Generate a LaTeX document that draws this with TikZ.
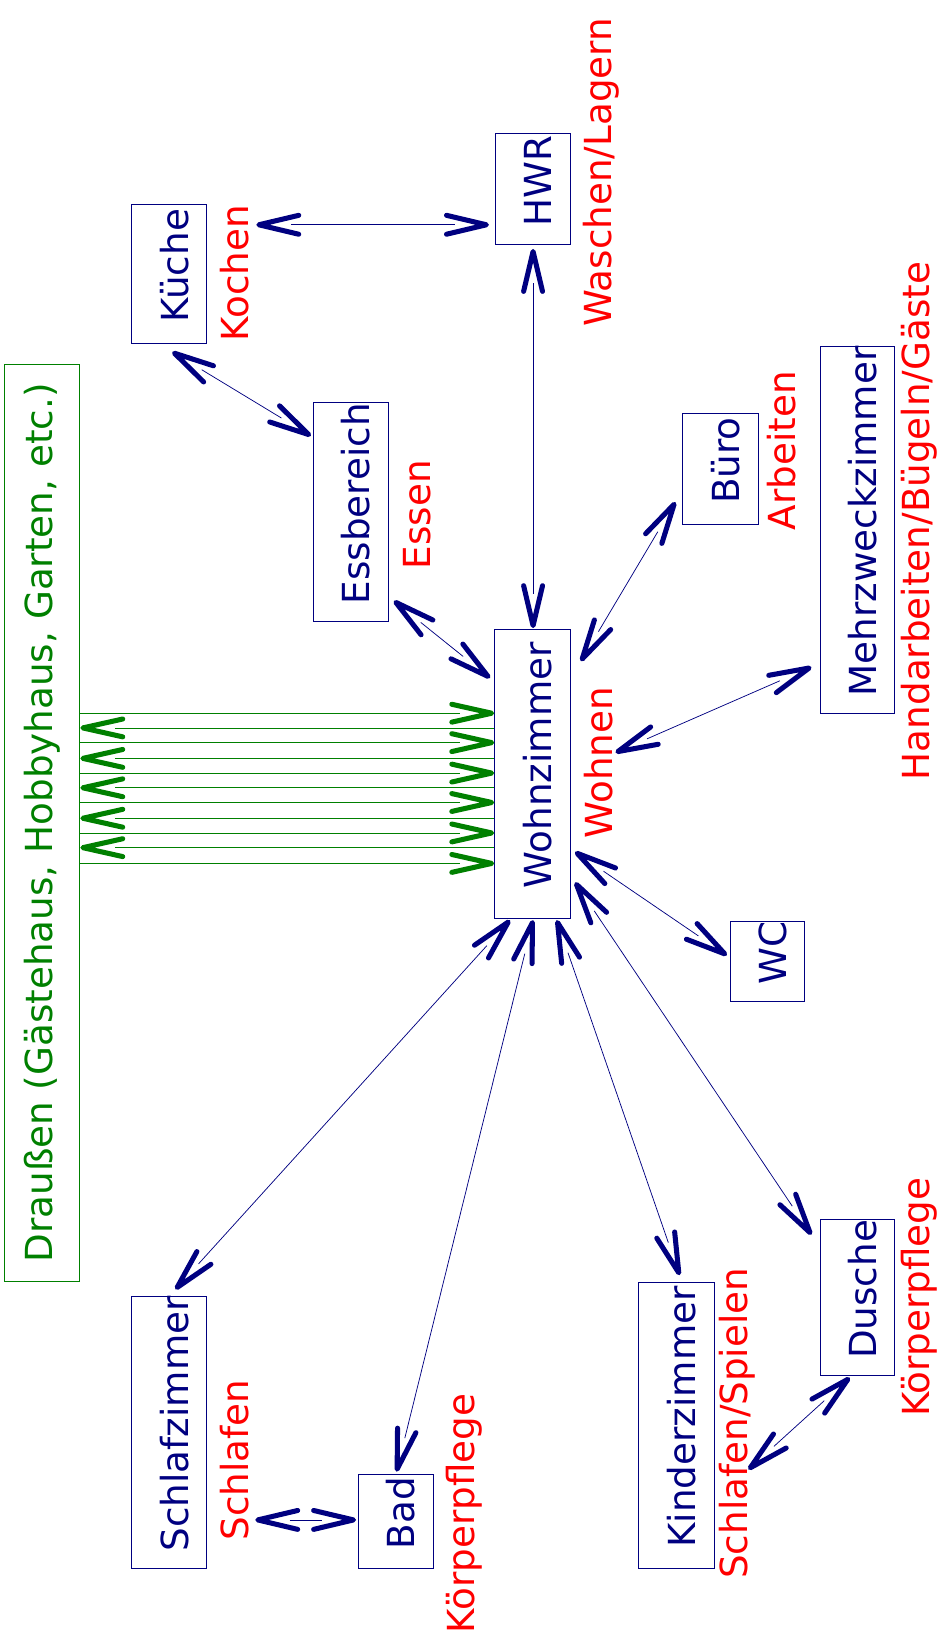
\documentclass[tikz,border=0pt]{standalone}
\usepackage{fontspec}
\setmainfont{DejaVu Sans}
\usetikzlibrary{arrows.meta,calc}

\definecolor{roomblue}{RGB}{0,0,128}
\definecolor{actred}{RGB}{255,0,0}
\definecolor{outgreen}{RGB}{0,128,0}

% open, bold V-shaped tip; the thin shaft stops inside the V
\pgfdeclarearrow{
  name = Vee,
  parameters = {\the\pgfarrowlength,\the\pgfarrowwidth,\the\pgfarrowlinewidth},
  setup code = {
    \pgfarrowssettipend{.5\pgfarrowlinewidth}
    \pgfarrowssetbackend{-\pgfarrowlength}
    \pgfarrowssetlineend{-.8\pgfarrowlength}
    \pgfarrowssavethe\pgfarrowlength
    \pgfarrowssavethe\pgfarrowwidth
    \pgfarrowssavethe\pgfarrowlinewidth
  },
  drawing code = {
    \pgfsetdash{}{0pt}
    \pgfsetroundcap
    \pgfsetroundjoin
    \pgfsetlinewidth{\pgfarrowlinewidth}
    \pgfpathmoveto{\pgfpoint{-\pgfarrowlength}{.5\pgfarrowwidth}}
    \pgfpathlineto{\pgfpointorigin}
    \pgfpathlineto{\pgfpoint{-\pgfarrowlength}{-.5\pgfarrowwidth}}
    \pgfusepathqstroke
  },
  defaults = {length=38pt, width=18pt, line width=4.8pt}
}

\tikzset{
  room/.style={draw=roomblue, line width=0.9pt, rectangle, inner sep=0pt,
    rotate=90, text=roomblue, text height=36pt, text depth=0pt,
    execute at begin node={\hspace*{16pt}}},
  activity/.style={rotate=90, anchor=base, text=actred, inner sep=0pt},
  link/.style={draw=roomblue, line width=0.7pt, arrows={Vee-Vee}},
  outlink/.style={draw=outgreen, line width=0.7pt, arrows={-Vee[width=17pt]}},
  inlink/.style={draw=outgreen, line width=0.7pt, arrows={Vee[width=17pt]-}},
}

\begin{document}
\begin{tikzpicture}[x=1pt, y=-1pt, font=\fontsize{35.5}{40}\selectfont]
\useasboundingbox (0,0) rectangle (893,1568);

% rooms
\node[room, minimum width=132pt, minimum height=72pt] (kue)    at (161,261)     {Küche};
\node[room, minimum width=106pt, minimum height=71pt] (hwr)    at (507.5,180)   {HWR};
\node[room, minimum width=209pt, minimum height=72pt] (ess)    at (334,487.5)   {Essbereich};
\node[room, minimum width=275pt, minimum height=72pt] (wohn)   at (507,736.5)   {Wohnzimmer};
\node[room, minimum width=105pt, minimum height=72pt] (buero)  at (686,446.5)   {Büro};
\node[room, minimum width=335pt, minimum height=71pt] (mehr)   at (816.5,504.5) {Mehrzweckzimmer};
\node[room, minimum width=75pt,  minimum height=71pt] (wc)     at (730.5,915.5) {WC};
\node[room, minimum width=259pt, minimum height=72pt] (schlaf) at (161,1363.5)  {Schlafzimmer};
\node[room, minimum width=89pt,  minimum height=72pt] (bad)    at (377,1448.5)  {Bad};
\node[room, minimum width=272pt, minimum height=72pt] (kind)   at (644,1357)    {Kinderzimmer};
\node[room, minimum width=139pt, minimum height=71pt] (dusche) at (816.5,1235.5){Dusche};

% outside
\node[draw=outgreen, line width=0.9pt, rectangle, inner sep=0pt, rotate=90,
      text=outgreen, minimum width=873pt, minimum height=72pt]
      (drau) at (40,783.5) {Draußen (Gästehaus, Hobbyhaus, Garten, etc.)};

% activities
\node[activity] (tkue)    at (237,260)   {Kochen};
\node[activity] (thwr)    at (582,164)   {Waschen/Lagern};
\node[activity] (tess)    at (410,490)   {Essen};
\node[activity] (twohn)   at (583,726)   {Wohnen};
\node[activity] (tbuero)  at (757,429)   {Arbeiten};
\node[activity] (tmehr)   at (885,496)   {Handarbeiten/Bügeln/Gäste};
\node[activity] (tschlaf) at (237,1390)  {Schlafen};
\node[activity] (tbad)    at (452,1441)  {Körperpflege};
\node[activity] (tkind)   at (712,1355)  {Schlafen/Spielen};
\node[activity] (tdusche) at (885,1235)  {Körperpflege};

% connections between rooms
\draw[link] ($(kue)+(83,-47)$)       -- ($(hwr)+(-42,34)$);
\draw[link] ($(kue)+(3,74)$)         -- ($(ess)+(-38,-72.5)$);
\draw[link] ($(ess)+(41,84.5)$)      -- ($(wohn)+(-40.5,-91)$);
\draw[link] ($(hwr)+(0,57)$)         -- ($(wohn)+(0.5,-138.5)$);
\draw[link] ($(buero)+(-43,31.5)$)   -- ($(wohn)+(46,-107)$);
\draw[link] ($(mehr)+(-44,130.5)$)   -- ($(wohn)+(79,-20)$);
\draw[link] ($(wc)+(-38.5,-6)$)      -- ($(wohn)+(40.5,74.5)$);
\draw[link] ($(dusche)+(-44,-60)$)   -- ($(wohn)+(40.5,103.5)$);
\draw[link] ($(kind)+(3,-143)$)      -- ($(wohn)+(23,139.5)$);
\draw[link] ($(bad)+(0.5,-47.5)$)    -- ($(wohn)+(0.5,139.5)$);
\draw[link] ($(schlaf)+(6,-136)$)    -- ($(wohn)+(-21.5,139.5)$);
\draw[link] ($(schlaf)+(82,83.5)$)   -- ($(bad)+(-38,-1.5)$);
\draw[link] ($(kind)+(68.5,42)$)     -- ($(dusche)+(-7.5,76)$);

% ways between outside and living room
\foreach \y in {679,707,736,764,793,822}
  \draw[outlink] (drau.south |- 0,\y) -- (wohn.north |- 0,\y);
\foreach \y in {693,722,750,779,807}
  \draw[inlink] (drau.south |- 0,\y) -- (wohn.north |- 0,\y);
\end{tikzpicture}
\end{document}
